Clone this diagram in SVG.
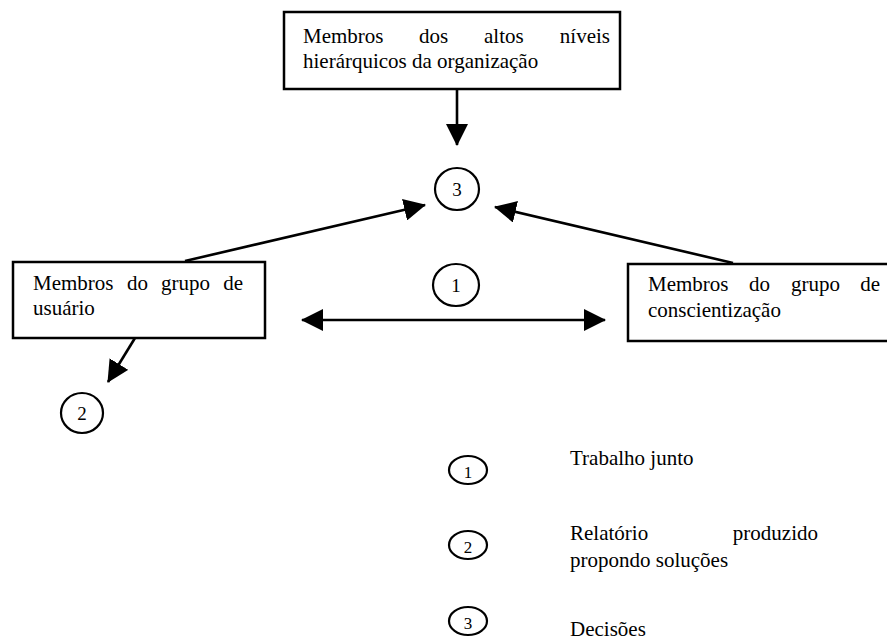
<svg xmlns="http://www.w3.org/2000/svg" width="887" height="641" viewBox="0 0 887 641">
  <style>
    text { font-family: 'Liberation Serif', 'Times New Roman', serif; fill: #000; }
    .box { fill: #fff; stroke: #000; stroke-width: 2.5; }
    .txt { font-size: 21px; }
    .num { font-size: 19px; text-anchor: middle; }
    .lnum { font-size: 17px; text-anchor: middle; }
    .ring { fill: #fff; stroke: #000; stroke-width: 2.2; }
    .edge { fill: none; stroke: #000; stroke-width: 2.6; marker-end: url(#head); }
  </style>
  <defs>
    <marker id="head" markerUnits="userSpaceOnUse" markerWidth="22" markerHeight="22" refX="21" refY="11" orient="auto-start-reverse">
      <path d="M0,0 L22,11 L0,22 Z" fill="#000"/>
    </marker>
  </defs>
  <rect width="887" height="641" fill="#fff"/>

  <!-- connectors -->
  <g id="connectors">
    <line class="edge" x1="457" y1="89" x2="457" y2="145"/>
    <line class="edge" x1="185" y1="261" x2="425" y2="205"/>
    <line class="edge" x1="733" y1="263" x2="495" y2="207"/>
    <line class="edge" x1="302" y1="320" x2="605" y2="320" marker-start="url(#head)"/>
    <line class="edge" x1="135" y1="338" x2="108" y2="382"/>
  </g>

  <!-- top management (justified first line) -->
  <g id="node-alta-direcao">
    <rect class="box" x="284" y="12" width="336" height="77"/>
    <text class="txt" y="43"><tspan x="303">Membros</tspan><tspan x="419">dos</tspan><tspan x="484">altos</tspan><tspan x="610" text-anchor="end">níveis</tspan></text>
    <text class="txt" x="303" y="68">hierárquicos da organização</text>
  </g>

  <!-- user group -->
  <g id="node-grupo-usuario">
    <rect class="box" x="13" y="262" width="252" height="76"/>
    <text class="txt" y="290"><tspan x="33">Membros</tspan><tspan x="127">do</tspan><tspan x="161">grupo</tspan><tspan x="243" text-anchor="end">de</tspan></text>
    <text class="txt" x="33" y="315">usuário</text>
  </g>

  <!-- awareness group (box runs past the right edge) -->
  <g id="node-grupo-conscientizacao">
    <rect class="box" x="628" y="264" width="300" height="77"/>
    <text class="txt" y="291"><tspan x="648">Membros</tspan><tspan x="749">do</tspan><tspan x="791">grupo</tspan><tspan x="880" text-anchor="end">de</tspan></text>
    <text class="txt" x="648" y="317">conscientização</text>
  </g>

  <!-- numbered markers -->
  <g id="marker-3">
    <ellipse class="ring" cx="457" cy="189" rx="22" ry="21"/>
    <text class="num" x="457" y="196">3</text>
  </g>
  <g id="marker-1">
    <ellipse class="ring" cx="456" cy="285" rx="23" ry="21"/>
    <text class="num" x="456" y="292">1</text>
  </g>
  <g id="marker-2">
    <ellipse class="ring" cx="82" cy="413" rx="21" ry="20"/>
    <text class="num" x="82" y="420">2</text>
  </g>

  <!-- legend -->
  <g id="legend-1">
    <ellipse class="ring" cx="468" cy="470" rx="19" ry="14"/>
    <text class="lnum" x="468" y="478">1</text>
    <text class="txt" x="570" y="465">Trabalho junto</text>
  </g>
  <g id="legend-2">
    <ellipse class="ring" cx="468" cy="545" rx="19" ry="14"/>
    <text class="lnum" x="468" y="553">2</text>
    <text class="txt" x="570" y="540">Relatório</text>
    <text class="txt" x="818" y="540" text-anchor="end">produzido</text>
    <text class="txt" x="570" y="567">propondo soluções</text>
  </g>
  <g id="legend-3">
    <ellipse class="ring" cx="468" cy="621" rx="19" ry="14"/>
    <text class="lnum" x="468" y="629">3</text>
    <text class="txt" x="570" y="636">Decisões</text>
  </g>
</svg>
